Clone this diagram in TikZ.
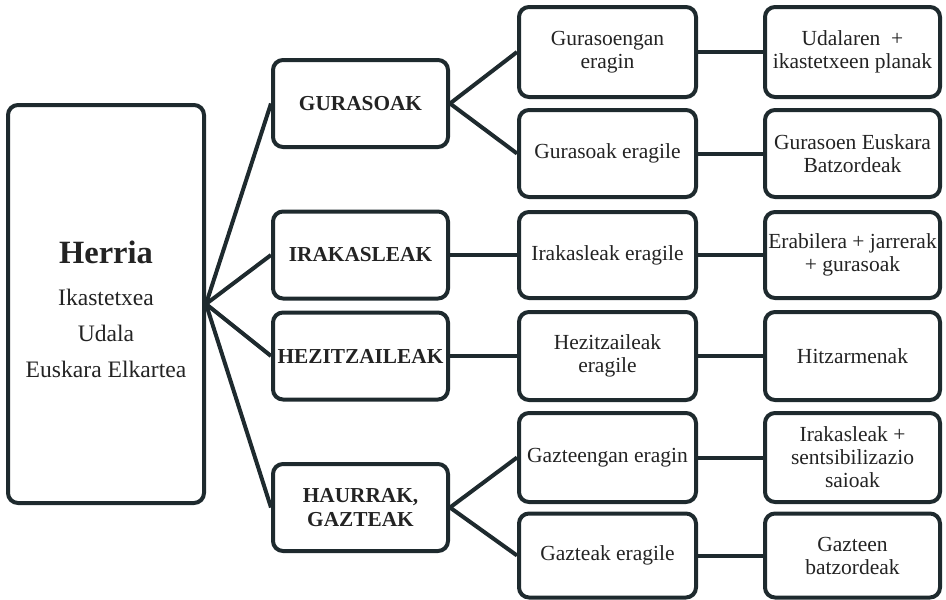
\documentclass[tikz,border=0pt]{standalone}
\usepackage{fontspec}
\setmainfont{Liberation Serif}
\definecolor{ink}{RGB}{30,42,46}
\definecolor{txt}{RGB}{35,35,35}
\begin{document}
\begin{tikzpicture}[x=1pt,y=-1pt,
  box/.style={draw=ink, line width=4pt, rounded corners=10pt, rectangle, inner sep=0pt,
    align=center, text=txt, font=\fontsize{21.5}{23}\selectfont},
  lvltwo/.style={box, minimum width=175pt, minimum height=87pt, font=\fontsize{21.3}{24}\selectfont\bfseries},
  lvlthree/.style={box, minimum width=177pt},
  lvlfour/.style={box, minimum width=175pt},
  htxt/.style={anchor=base, inner sep=0pt, text=txt, font=\fontsize{23.6}{26}\selectfont},
  link/.style={draw=ink, line width=4pt}]
\useasboundingbox (0,0) rectangle (946,600);

% root
\node[box, minimum width=196pt, minimum height=398pt] (herria) at (106,304) {};
\node[htxt, font=\fontsize{32.5}{34}\selectfont\bfseries] (herrianame) at (106,263) {Herria};
\node[htxt] (ikast) at (106,305) {Ikastetxea};
\node[htxt] (udala) at (106,341) {Udala};
\node[htxt] (elkar) at (106,377) {Euskara Elkartea};

% level 2
\node[lvltwo] (gur) at (360.5,103.5) {GURASOAK};
\node[lvltwo] (irak) at (360.5,255) {IRAKASLEAK};
\node[lvltwo] (hez) at (360.5,356) {HEZITZAILEAK};
\node[lvltwo] (haur) at (360.5,507.5) {HAURRAK,\\GAZTEAK};

% level 3
\node[lvlthree, minimum height=90pt] (gureragin) at (607.5,52) {Gurasoengan\\eragin};
\node[lvlthree, minimum height=87pt] (gureragile) at (607.5,153.5) {Gurasoak eragile};
\node[lvlthree, minimum height=86pt] (irakeragile) at (607.5,255) {Irakasleak eragile};
\node[lvlthree, minimum height=88pt] (hezeragile) at (607.5,356) {Hezitzaileak\\eragile};
\node[lvlthree, minimum height=89pt] (gazeragin) at (607.5,457.5) {Gazteengan eragin};
\node[lvlthree, minimum height=84pt] (gazeragile) at (607.5,555.5) {Gazteak eragile};

% level 4
\node[lvlfour, minimum height=90pt] (planak) at (852.5,52) {Udalaren\enspace+\\ikastetxeen planak};
\node[lvlfour, minimum height=87pt] (batz) at (852.5,153.5) {Gurasoen Euskara\\Batzordeak};
\node[lvlfour, minimum height=86pt] (erab) at (852.5,255) {Erabilera + jarrerak\\+ gurasoak};
\node[lvlfour, minimum height=88pt] (hitz) at (852.5,356) {Hitzarmenak};
\node[lvlfour, minimum height=89pt] (sents) at (852.5,457.5) {Irakasleak +\\sentsibilizazio\\saioak};
\node[lvlfour, minimum height=84pt] (gazbatz) at (852.5,555.5) {Gazteen\\batzordeak};

% connectors
\draw[link] (herria.east) -- (gur.west);
\draw[link] (herria.east) -- (irak.west);
\draw[link] (herria.east) -- (hez.west);
\draw[link] (herria.east) -- (haur.west);

\draw[link] (gur.east) -- (gureragin.west);
\draw[link] (gur.east) -- (gureragile.west);
\draw[link] (irak.east) -- (irakeragile.west);
\draw[link] (hez.east) -- (hezeragile.west);
\draw[link] (haur.east) -- (gazeragin.west);
\draw[link] (haur.east) -- (gazeragile.west);

\draw[link] (gureragin.east) -- (planak.west);
\draw[link] (gureragile.east) -- (batz.west);
\draw[link] (irakeragile.east) -- (erab.west);
\draw[link] (hezeragile.east) -- (hitz.west);
\draw[link] (gazeragin.east) -- (sents.west);
\draw[link] (gazeragile.east) -- (gazbatz.west);
\end{tikzpicture}
\end{document}
